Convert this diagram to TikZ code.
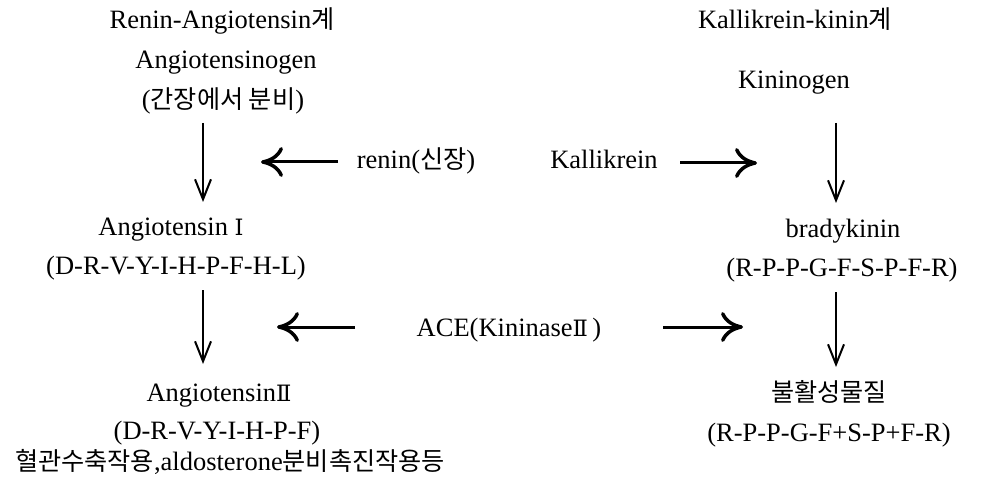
\documentclass[tikz,border=0pt]{standalone}
\usepackage{fontspec}
\setmainfont{Liberation Serif}
\newfontfamily\kr{Noto Sans CJK KR}[Scale=0.95]
\newfontfamily\rn{DejaVu Serif}[Scale=0.85]
\usetikzlibrary{arrows.meta}
\begin{document}
\begin{tikzpicture}[x=1pt,y=-1pt,
  lbl/.style={inner sep=0pt, font=\fontsize{26.5}{30}\selectfont, text height=18pt, text depth=6pt, anchor=center},
  varrow/.style={line width=1.3pt, -{Straight Barb[length=20pt,width=16pt,line width=2pt]}},
  harrow/.style={line width=3pt, -{Computer Modern Rightarrow[length=22pt,width=30pt,line width=3.5pt]}}]
\useasboundingbox (0,0) rectangle (981,478);
% left column
\node[lbl] (ra)    at (222,23)  {Renin-Angiotensin{\kr 계}};
\node[lbl] (agen)  at (226,63)  {Angiotensinogen};
\node[lbl] (liver) at (223,103) {({\kr 간장에서 분비})};
\node[lbl] (ang1)  at (171,230) {Angiotensin {\rn Ⅰ}};
\node[lbl] (seq1)  at (176,268) {(D-R-V-Y-I-H-P-F-H-L)};
\node[lbl] (ang2)  at (219,395) {Angiotensin{\rn Ⅱ}};
\node[lbl] (seq2)  at (217,433) {(D-R-V-Y-I-H-P-F)};
\node[lbl] (eff)   at (230,464) {{\kr 혈관수축작용},aldosterone{\kr 분비촉진작용등}};
% right column
\node[lbl] (kk)    at (795,23)  {Kallikrein-kinin{\kr 계}};
\node[lbl] (kgen)  at (794,83)  {Kininogen};
\node[lbl] (brady) at (843,231) {bradykinin};
\node[lbl] (seq3)  at (842,270) {(R-P-P-G-F-S-P-F-R)};
\node[lbl] (inact) at (829,395) {{\kr 불활성물질}};
\node[lbl] (seq4)  at (829,435) {(R-P-P-G-F+S-P+F-R)};
% enzymes
\node[lbl] (renin) at (416,163) {renin({\kr 신장})};
\node[lbl] (kal)   at (604,163) {Kallikrein};
\node[lbl] (ace)   at (509,330) {ACE(Kininase{\rn Ⅱ}\,)};
% arrow ends
\coordinate (l1a) at (203,123); \coordinate (l1b) at (203,202);
\coordinate (l2a) at (203,290); \coordinate (l2b) at (203,364);
\coordinate (r1a) at (836,123); \coordinate (r1b) at (836,203);
\coordinate (r2a) at (836,292); \coordinate (r2b) at (836,367);
\coordinate (reninT) at (338,162); \coordinate (reninTip) at (261,162);
\coordinate (kalT)   at (680,163); \coordinate (kalTip)   at (757,163);
\coordinate (aceLT)  at (355,327); \coordinate (aceL)     at (277,327);
\coordinate (aceRT)  at (663,327); \coordinate (aceR)     at (743,327);
% vertical arrows
\draw[varrow] (l1a) -- (l1b);
\draw[varrow] (l2a) -- (l2b);
\draw[varrow] (r1a) -- (r1b);
\draw[varrow] (r2a) -- (r2b);
% horizontal arrows
\draw[harrow] (reninT) -- (reninTip);
\draw[harrow] (kalT) -- (kalTip);
\draw[harrow] (aceLT) -- (aceL);
\draw[harrow] (aceRT) -- (aceR);
\end{tikzpicture}
\end{document}
